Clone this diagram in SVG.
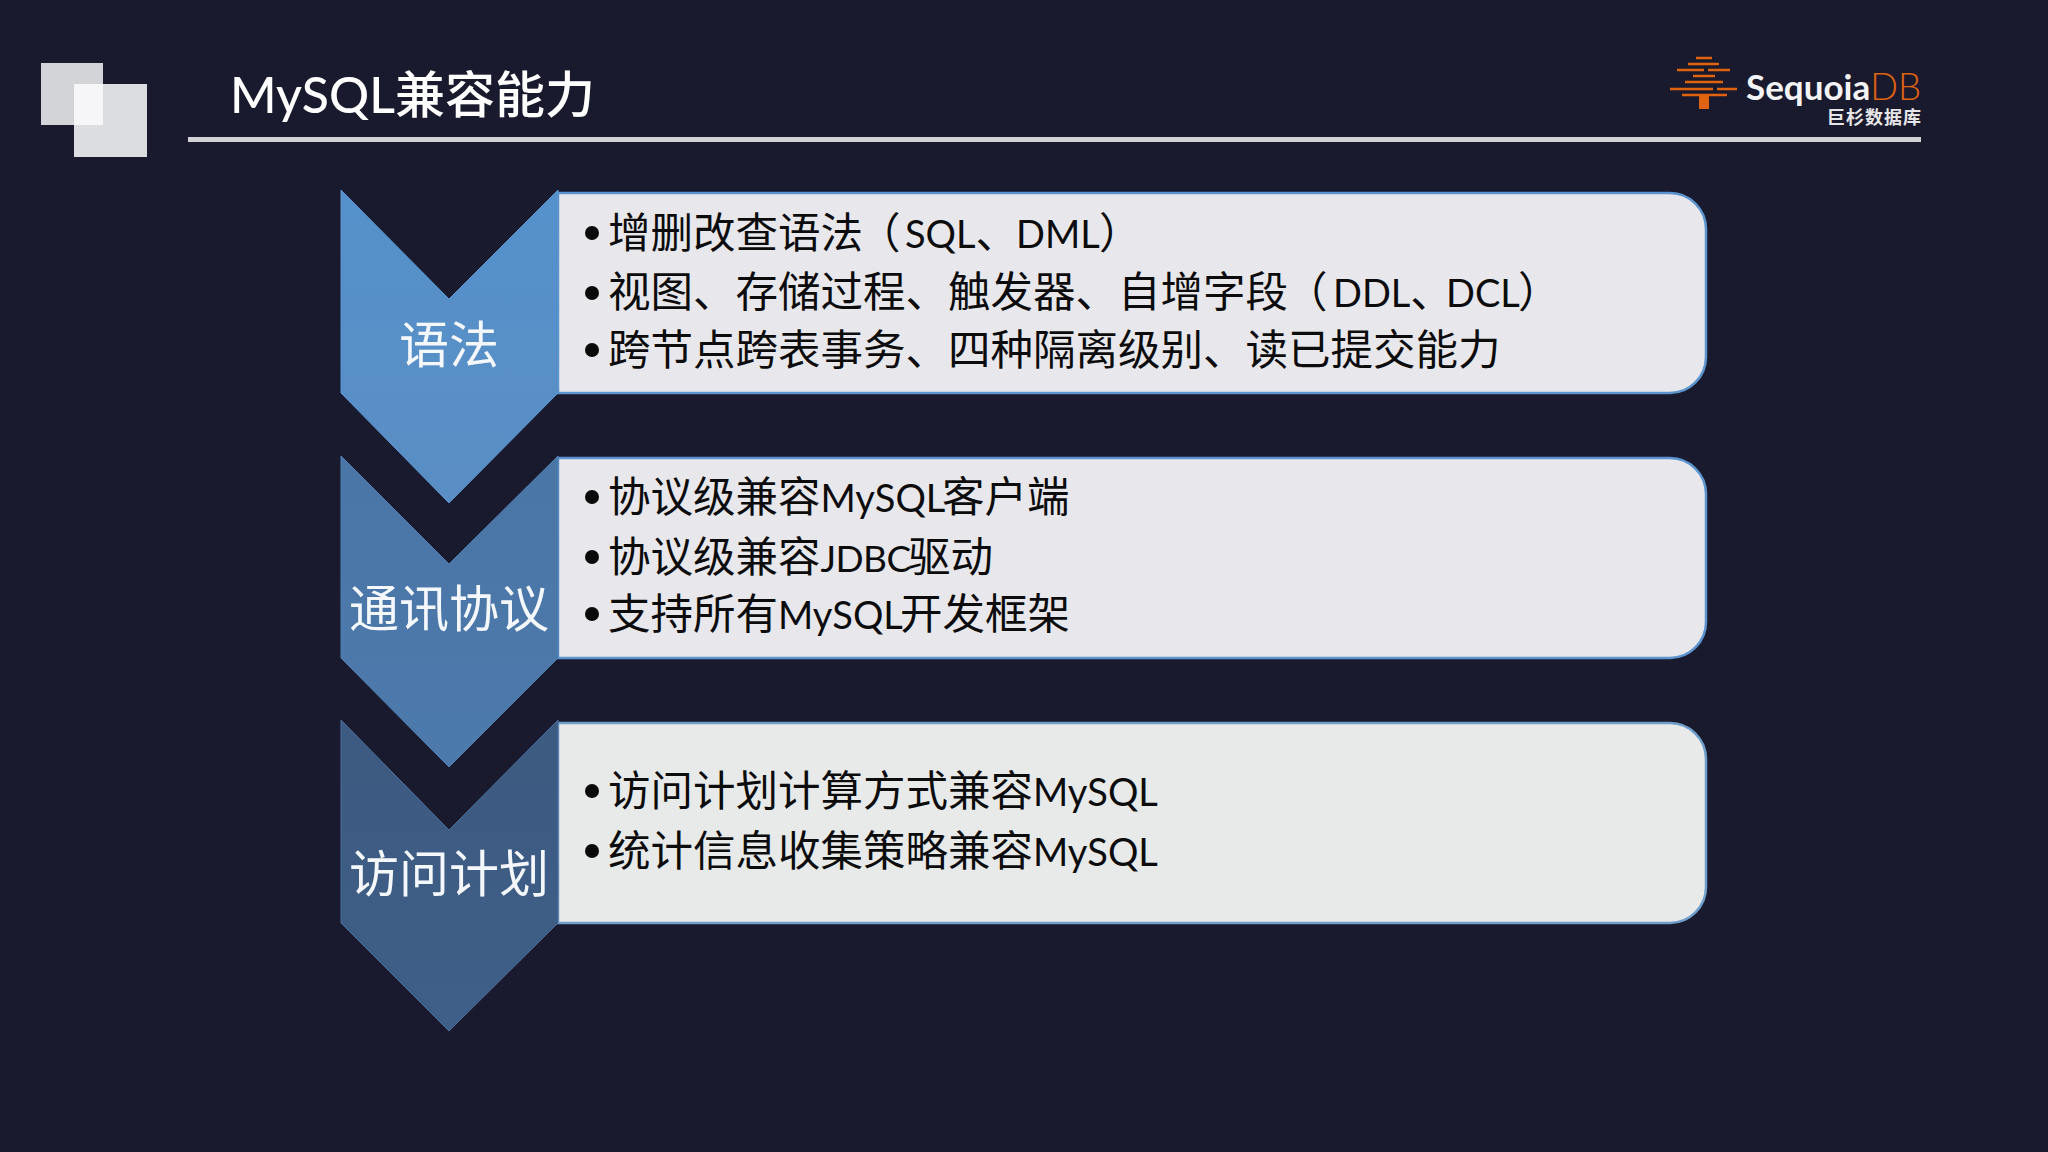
<svg xmlns="http://www.w3.org/2000/svg" width="2048" height="1152" viewBox="0 0 2048 1152">
<style>
text{font-family:"Lato","Noto Sans CJK SC",sans-serif}
.t{font-size:42.5px;fill:#0c0c0c}
.m{font-size:38px}
.j{font-size:37px;letter-spacing:-0.6px}
.l{font-size:50px;fill:#f4f7fb;text-anchor:middle}
.b{fill:#0a0a0a}
.box{stroke-width:2.5}
.chev{stroke-width:1}
.bar{stroke:#e0640f;stroke-width:2.6;fill:none}
</style>
<defs>
<linearGradient id="g1" x1="0" y1="0" x2="0" y2="1"><stop offset="0" stop-color="#5591cb"/><stop offset="1" stop-color="#5a8ec4"/></linearGradient>
<linearGradient id="g2" x1="0" y1="0" x2="0" y2="1"><stop offset="0" stop-color="#4a76a6"/><stop offset="1" stop-color="#4d7aac"/></linearGradient>
<linearGradient id="g3" x1="0" y1="0" x2="0" y2="1"><stop offset="0" stop-color="#3d5a80"/><stop offset="1" stop-color="#3f5f88"/></linearGradient>
</defs>
<rect width="2048" height="1152" fill="#1a1a2e"/>
<g id="deco">
<rect x="41" y="63" width="62" height="62" fill="#d3d4d8"/>
<rect x="74" y="84" width="73" height="73" fill="#dcddE0"/>
<rect x="74" y="84" width="29" height="41" fill="#f6f6f8"/>
</g>
<g id="header">
<text x="230" y="113" font-size="50" font-weight="500" fill="#fff">MySQL兼容能力</text>
<rect x="188" y="137" width="1733" height="5" fill="#d2d2d6"/>
</g>
<g id="logo">
<path class="bar" d="M1696 58H1712M1688 64H1719M1677 70H1704M1708 70H1730M1693 76H1715M1685 82H1723M1670 89H1713M1717 89H1737M1682 95H1727"/>
<path d="M1699 95H1709V109H1699Z" fill="#e0640f"/>
<text x="1746" y="100" font-size="35" font-weight="700" fill="#f4f4f6">Sequoia<tspan fill="#e0640f" font-weight="300" font-size="36.5">DB</tspan></text>
<text x="1827" y="124" font-size="18" font-weight="700" letter-spacing="1" fill="#e6e6e8" style="font-family:'Noto Sans CJK SC',sans-serif">巨杉数据库</text>
</g>
<g id="step1">
<path class="box" d="M558 193H1670A36 36 0 0 1 1706 229V357A36 36 0 0 1 1670 393H558Z" fill="#e8e8ec" stroke="#5b94cf"/>
<path class="chev" d="M341 190L449 299L558 190V393L449 503L341 393Z" fill="url(#g1)" stroke="#5a94cf"/>
<text class="l" x="449" y="363">语法</text>
<circle class="b" cx="592" cy="233" r="7"/><circle class="b" cx="592" cy="293" r="7"/><circle class="b" cx="592" cy="350" r="7"/>
<text class="t" x="608" y="248">增删改查语法<tspan x="858">（</tspan><tspan class="m" x="905">SQL</tspan>、<tspan class="m" x="1016">DML</tspan><tspan x="1099">）</tspan></text>
<text class="t" x="608" y="307">视图、存储过程、触发器、自增字段<tspan x="1285">（</tspan><tspan class="m" x="1333">DDL</tspan>、<tspan class="m" x="1446">DCL</tspan><tspan x="1518">）</tspan></text>
<text class="t" x="608" y="365">跨节点跨表事务、四种隔离级别、读已提交能力</text>
</g>
<g id="step2">
<path class="box" d="M558 458H1670A36 36 0 0 1 1706 494V622A36 36 0 0 1 1670 658H558Z" fill="#e8e8ec" stroke="#5b94cf"/>
<path class="chev" d="M341 456L449 564L558 456V658L449 767L341 658Z" fill="url(#g2)" stroke="#4f80b4"/>
<text class="l" x="449" y="627">通讯协议</text>
<circle class="b" cx="592" cy="497" r="7"/><circle class="b" cx="592" cy="557" r="7"/><circle class="b" cx="592" cy="614" r="7"/>
<text class="t" x="608" y="512">协议级兼容<tspan class="m">MySQL</tspan><tspan x="942">客户端</tspan></text>
<text class="t" x="608" y="572">协议级兼容<tspan class="j">JDBC</tspan><tspan x="908">驱动</tspan></text>
<text class="t" x="608" y="629">支持所有<tspan class="m">MySQL</tspan><tspan x="900">开发框架</tspan></text>
</g>
<g id="step3">
<path class="box" d="M558 723H1670A36 36 0 0 1 1706 759V887A36 36 0 0 1 1670 923H558Z" fill="#e8eaea" stroke="#6f9ecb"/>
<path class="chev" d="M341 720L449 830L558 720V923L449 1031L341 923Z" fill="url(#g3)" stroke="#4a6f9c"/>
<text class="l" x="449" y="892">访问计划</text>
<circle class="b" cx="592" cy="791" r="7"/><circle class="b" cx="592" cy="851" r="7"/>
<text class="t" x="608" y="806">访问计划计算方式兼容<tspan class="m">MySQL</tspan></text>
<text class="t" x="608" y="866">统计信息收集策略兼容<tspan class="m">MySQL</tspan></text>
</g>
</svg>
